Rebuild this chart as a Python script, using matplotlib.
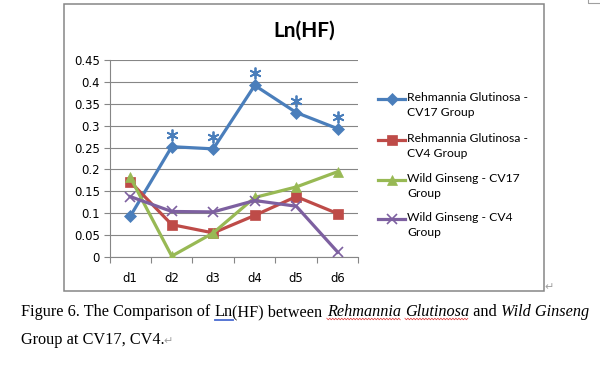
import numpy as np
import matplotlib
matplotlib.use("Agg")
import matplotlib.pyplot as plt
from matplotlib.transforms import offset_copy

# data
days = ["d1", "d2", "d3", "d4", "d5", "d6"]
rg_cv17 = [0.093, 0.252, 0.247, 0.392, 0.330, 0.293]
rg_cv4 = [0.172, 0.074, 0.055, 0.095, 0.138, 0.099]
wg_cv17 = [0.182, 0.002, 0.055, 0.136, 0.160, 0.195]
wg_cv4 = [0.138, 0.104, 0.103, 0.129, 0.116, 0.011]
signif = [False, True, True, True, True, True]  # asterisks on the blue series
labels = ["Rehmannia Glutinosa -\nCV17 Group", "Rehmannia Glutinosa -\nCV4 Group",
          "Wild Ginseng - CV17\nGroup", "Wild Ginseng - CV4\nGroup"]

BLUE, RED, GREEN, PURPLE = "#4A7EBB", "#BE4B48", "#98B954", "#7D60A0"
GRID = "#868686"
styles = [(rg_cv17, BLUE, "D", 6.0), (rg_cv4, RED, "s", 6.5),
          (wg_cv17, GREEN, "^", 7.5), (wg_cv4, PURPLE, "x", 6.5)]

W, H = 600, 368
fig = plt.figure(figsize=(W / 100, H / 100), dpi=100)

# overlay in pixel coords for box, legend, caption
lay = fig.add_axes([0, 0, 1, 1])
lay.set_xlim(0, W)
lay.set_ylim(H, 0)
lay.axis("off")

ax = fig.add_axes([109.5 / W, 1 - 257 / H, 249 / W, 197 / H])
x = np.arange(len(days))
for (vals, c, m, ms) in styles:
    ax.plot(x, vals, color=c, lw=2.3, marker=m, ms=ms, mew=1.2 if m == "x" else 0.5,
            mec=c, mfc=c, solid_joinstyle="round", zorder=3)

# significance asterisks, drawn a few pixels above the blue points
up = offset_copy(ax.transData, fig=fig, x=0, y=12, units="dots")
sx = [xi for xi, s in zip(x, signif) if s]
sy = [v for v, s in zip(rg_cv17, signif) if s]
ax.plot(sx, sy, ls="none", marker=(6, 2, 0), ms=8.5, mew=1.3, color=BLUE,
        transform=up, zorder=4)

ax.set_xlim(-0.5, len(days) - 0.5)
ax.set_ylim(0, 0.45)
ax.set_yticks(np.arange(0, 0.451, 0.05))
ax.set_yticklabels(["%g" % round(t, 2) for t in np.arange(0, 0.451, 0.05)])
ax.set_xticks(x)
ax.set_xticklabels(days)
ax.set_xticks(np.arange(-0.5, len(days)), minor=True)
ax.tick_params(axis="x", which="major", length=0, pad=11, labelsize=8.4)
ax.tick_params(axis="x", which="minor", length=4, color=GRID, width=0.8)
ax.tick_params(axis="y", length=4, color=GRID, width=0.8, pad=3, labelsize=8.4)
for t in ax.get_xticklabels() + ax.get_yticklabels():
    t.set_family("DejaVu Sans")
ax.grid(axis="y", color=GRID, lw=0.8)
ax.set_axisbelow(True)
for sp in ["top", "right"]:
    ax.spines[sp].set_visible(False)
for sp in ["left", "bottom"]:
    ax.spines[sp].set_color(GRID)
    ax.spines[sp].set_linewidth(0.8)
ax.patch.set_alpha(0)

# chart frame
lay.add_patch(plt.Rectangle((64, 4), 480, 287, fill=False, ec=GRID, lw=1.1))
lay.plot([588, 588, 600], [0, 2.5, 2.5], color="#A0A0A0", lw=0.8)
lay.text(544, 287, "\u21b5", color="#A0A0A0", fontsize=8, va="center")

# title
lay.text(304, 31, "Ln(HF)", ha="center", va="center", fontsize=15,
         fontweight="bold", family="Lato")

# legend
ys = [99, 140, 180, 219]
for (vals, c, m, ms), lab, yy in zip(styles, labels, ys):
    lay.plot([378, 405], [yy, yy], color=c, lw=2.3)
    lay.plot([391.5], [yy], color=c, marker=m, ms=ms, mew=1.2 if m == "x" else 0.5)
    lay.text(407, yy - 7, lab, fontsize=8.7, family="Lato", va="top", ha="left",
             linespacing=1.4)

# caption, built piece by piece
fig.canvas.draw()
rend = fig.canvas.get_renderer()


def put(parts, x0, y0):
    xx = x0
    boxes = []
    for txt, style in parts:
        t = lay.text(xx, y0, txt, fontsize=11.7, family="Liberation Serif",
                     style=style, va="baseline", ha="left")
        bb = t.get_window_extent(rend)
        boxes.append((xx, xx + bb.width))
        xx += bb.width
    return boxes


b = put([("Figure 6. The Comparison of ", "normal"), ("Ln", "normal"),
         ("(HF) between ", "normal"), ("Rehmannia", "italic"), (" ", "normal"),
         ("Glutinosa", "italic"), (" and ", "normal"), ("Wild Ginseng", "italic")],
        21, 316)
# spelling / grammar marks as in the source document
x0, x1 = b[1]
lay.plot([x0, x1], [318.5, 318.5], color="#3A5FCD", lw=0.6)
lay.plot([x0, x1], [320, 320], color="#3A5FCD", lw=0.6)
for i in (3, 5):
    x0, x1 = b[i]
    zx = np.arange(x0, x1, 1.5)
    zy = 319 + 0.8 * ((np.arange(len(zx)) % 2) * 2 - 1)
    lay.plot(zx, zy, color="#E03030", lw=0.5)

b2 = put([("Group at CV17, CV4.", "normal")], 21, 344)
lay.text(b2[-1][1] - 1, 344, "\u21b5", color="#A0A0A0", fontsize=8, va="baseline")

fig.savefig("out.png", dpi=100)
